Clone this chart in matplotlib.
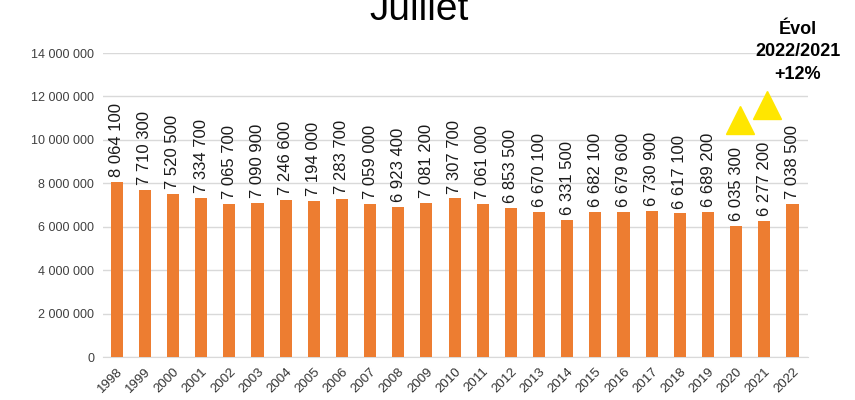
import numpy as np
import matplotlib.pyplot as plt

plt.rcParams['font.family'] = ['Liberation Sans', 'DejaVu Sans']

years = [str(y) for y in range(1998, 2023)]
values = [8064100, 7710300, 7520500, 7334700, 7065700, 7090900, 7246600,
          7194000, 7283700, 7059000, 6923400, 7081200, 7307700, 7061000,
          6853500, 6670100, 6331500, 6682100, 6679600, 6730900, 6617100,
          6689200, 6035300, 6277200, 7038500]
evol_text = "Évol\n2022/2021\n+12%"


def fmt(v):
    return f"{v:,.0f}".replace(",", " ")


fig = plt.figure(figsize=(8.55, 4), dpi=100)
ax = fig.add_axes([0.12, 0.1075, 0.825, 0.76])

x = np.arange(len(years))
ax.bar(x, values, width=0.43, color='#ED7D31', zorder=3)
for xi, v in zip(x, values):
    ax.text(xi, v + 220000, fmt(v), rotation=90, ha='center', va='bottom',
            fontsize=12, color='#1a1a1a', zorder=4)

ax.set_ylim(0, 14000000)
ax.set_xlim(-0.5, 24.55)
ax.set_yticks(np.arange(0, 14000001, 2000000))
ax.set_yticklabels([fmt(t) for t in ax.get_yticks()], fontsize=9, color='#404040')
ax.set_xticks(x)
ax.set_xticklabels(years, rotation=45, ha='right', rotation_mode='anchor',
                   fontsize=9.5, color='#333333')
ax.tick_params(length=0, pad=6)
ax.grid(axis='y', color='#D9D9D9', linewidth=1, zorder=0)
for s in ['top', 'right', 'left']:
    ax.spines[s].set_visible(False)
ax.spines['bottom'].set_color('#D9D9D9')

# yellow triangles
ax.plot([22.15], [10900000], marker='^', markersize=20, color='#FFE600',
        linestyle='none', clip_on=False, zorder=5)
ax.plot([23.1], [11600000], marker='^', markersize=20, color='#FFE600',
        linestyle='none', clip_on=False, zorder=5)

fig.text(0.49, 0.975, "Juillet", ha='center', va='center', fontsize=28)
fig.text(0.933, 0.87, evol_text, ha='center', va='center', fontsize=13,
         fontweight='bold', linespacing=1.45)

fig.savefig("out.png", dpi=100)
